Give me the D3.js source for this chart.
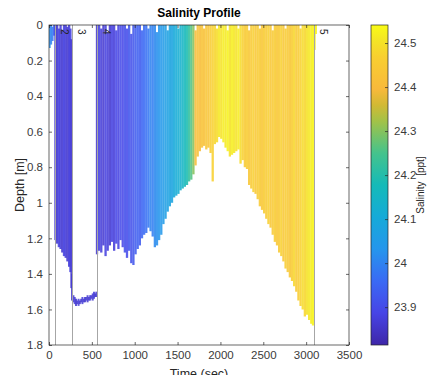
<!DOCTYPE html>
<html><head><meta charset="utf-8">
<script src="https://cdn.jsdelivr.net/npm/d3@7"></script>
<style>body{margin:0;background:#fff}svg{display:block;font-family:"Liberation Sans",Arial,sans-serif}</style>
</head><body><svg id="c" width="437" height="375"></svg>
<script>
// ---------- data ----------
const xTicks = [0,500,1000,1500,2000,2500,3000,3500];
const yTicks = [0,0.2,0.4,0.6,0.8,1,1.2,1.4,1.6,1.8];
const cbTicks = [23.9,24,24.1,24.2,24.3,24.4,24.5];
const salRange = [23.814, 24.541];
const markerTimes = [70, 265, 555, 3090];
const markerLabels = ["2","3","4","5"];

// surface casts before first marker
const preTime = [8, 25, 42, 58];
const preTop = [0.0, 0.0, 0.01, 0.0];
const preBottom = [0.13, 0.11, 0.09, 0.06];
const preSal = [24.02, 24.0, 23.98, 23.95];

// casts between marker 2 and 3
const segATime = [75, 95, 115, 135, 155, 175, 195, 215, 235, 250, 262];
const segATop = [0.0, 0.0, 0.02, 0.0, 0.03, 0.0, 0.0, 0.01, 0.0, 0.02, 0.08];
const segABottom = [1.21, 1.23, 1.25, 1.26, 1.28, 1.30, 1.31, 1.33, 1.36, 1.39, 1.48];
const segASal = [23.87, 23.86, 23.88, 23.87, 23.86, 23.88, 23.87, 23.86, 23.87, 23.88, 23.86];

// near-bottom samples between marker 3 and 4
const bedTime = [268, 285, 300, 315, 330, 345, 360, 375, 390, 405, 420, 435, 450, 465, 480, 495, 510, 525, 540, 552];
const bedTop = [1.40, 1.52, 1.53, 1.54, 1.55, 1.54, 1.55, 1.54, 1.53, 1.54, 1.53, 1.53, 1.52, 1.53, 1.52, 1.52, 1.51, 1.50, 1.51, 1.50];
const bedBottom = [1.55, 1.56, 1.57, 1.58, 1.57, 1.58, 1.57, 1.56, 1.57, 1.56, 1.56, 1.55, 1.56, 1.55, 1.55, 1.54, 1.55, 1.54, 1.53, 1.53];
const bedSal = [23.86, 23.86, 23.87, 23.86, 23.86, 23.87, 23.86, 23.86, 23.87, 23.86, 23.86, 23.87, 23.86, 23.86, 23.87, 23.86, 23.86, 23.87, 23.86, 23.86];

// main casts after marker 4
const castTime = [560,585,610,635,660,685,710,735,760,785,810,835,860,885,910,935,960,985,1010,1035,1060,1085,1110,1135,1160,1185,1210,1235,1260,1285,1310,1335,1360,1385,1410,1435,1460,1485,1510,1535,1560,1585,1610,1635,1660,1685,1710,1735,1760,1785,1810,1835,1860,1885,1910,1935,1960,1985,2010,2035,2060,2085,2110,2135,2160,2185,2210,2235,2260,2285,2310,2335,2360,2385,2410,2435,2460,2485,2510,2535,2560,2585,2610,2635,2660,2685,2710,2735,2760,2785,2810,2835,2860,2885,2910,2935,2960,2985,3010,3035,3060,3080];
const castTop = [0.0,0.0,0.02,0.0,0.0,0.04,0.0,0.0,0.0,0.03,0.0,0.0,0.0,0.0,0.02,0.0,0.05,0.0,0.0,0.0,0.0,0.03,0.0,0.0,0.02,0.0,0.0,0.0,0.04,0.0,0.0,0.0,0.0,0.03,0.0,0.0,0.0,0.0,0.02,0.0,0.0,0.0,0.0,0.0,0.0,0.0,0.03,0.0,0.0,0.0,0.02,0.0,0.0,0.0,0.0,0.0,0.02,0.0,0.0,0.0,0.0,0.03,0.0,0.0,0.0,0.0,0.02,0.0,0.0,0.0,0.0,0.03,0.0,0.0,0.0,0.0,0.02,0.0,0.0,0.0,0.0,0.0,0.03,0.0,0.0,0.0,0.0,0.0,0.02,0.0,0.0,0.0,0.0,0.0,0.0,0.02,0.0,0.0,0.0,0.0,0.0,0.0];
const castBottom = [1.29,1.27,1.28,1.24,1.30,1.27,1.24,1.22,1.27,1.23,1.26,1.21,1.25,1.28,1.31,1.27,1.34,1.35,1.29,1.26,1.24,1.20,1.18,1.17,1.14,1.16,1.19,1.25,1.24,1.21,1.18,1.12,1.09,1.05,1.02,1.00,0.97,0.96,0.95,0.93,0.92,0.91,0.90,0.88,0.87,0.84,0.79,0.74,0.71,0.69,0.68,0.70,0.69,0.72,0.88,0.67,0.66,0.63,0.64,0.66,0.69,0.71,0.74,0.73,0.72,0.71,0.70,0.78,0.76,0.80,0.81,0.90,0.92,0.94,0.95,0.98,1.02,1.04,1.06,1.09,1.12,1.14,1.18,1.22,1.24,1.28,1.30,1.33,1.37,1.39,1.42,1.44,1.47,1.50,1.55,1.58,1.60,1.64,1.63,1.66,1.68,1.69];
const castSal = [23.86,23.88,23.87,23.86,23.88,23.87,23.86,23.88,23.87,23.89,23.88,23.90,23.89,23.91,23.90,23.92,23.91,23.92,23.93,23.94,23.93,23.95,23.96,23.97,23.98,24.00,23.99,24.01,24.02,24.03,24.04,24.05,24.06,24.07,24.08,24.08,24.10,24.11,24.12,24.13,24.15,24.17,24.19,24.22,24.26,24.30,24.41,24.42,24.41,24.43,24.42,24.44,24.43,24.46,24.47,24.48,24.49,24.51,24.50,24.52,24.51,24.53,24.50,24.52,24.51,24.50,24.52,24.49,24.47,24.45,24.46,24.44,24.45,24.47,24.44,24.46,24.45,24.44,24.46,24.45,24.47,24.44,24.45,24.46,24.44,24.45,24.47,24.44,24.46,24.45,24.44,24.46,24.48,24.45,24.46,24.47,24.49,24.48,24.50,24.51,24.52,24.53];

// small surface blob after marker 5
const postTime = [3100, 3115];
const postTop = [0.0, 0.0];
const postBottom = [0.14, 0.05];
const postSal = [24.52, 24.53];

// ---------- parula-like colormap ----------
const parulaPos = [0, 0.1, 0.2, 0.3, 0.4, 0.5, 0.6, 0.7, 0.75, 0.8, 0.9, 0.95, 1];
const parulaCol = ["#3e26a8","#4744e6","#3a6af4","#2596ec","#15aad8","#15bab8","#45c38c","#a3c247","#d2b934","#f8b93b","#f8cf30","#f4e426","#f9fb15"];
const parula = d3.scaleLinear().domain(parulaPos).range(parulaCol).interpolate(d3.interpolateRgb);

// ---------- layout ----------
const svg = d3.select("#c");
const L = 49, R = 349, T = 25, B = 345;
const x = d3.scaleLinear().domain([0,3500]).range([L,R]);
const y = d3.scaleLinear().domain([0,1.8]).range([T,B]);
const c = d3.scaleLinear().domain(salRange).range([0,1]).clamp(true);
const col = v => parula(c(v));

svg.append("defs").append("clipPath").attr("id","clip")
  .append("rect").attr("x",L).attr("y",T).attr("width",R-L).attr("height",B-T);

const plot = svg.append("g").attr("clip-path","url(#clip)");

function drawCasts(times, tops, bottoms, sals, w, op){
  plot.append("g").selectAll("line").data(times).join("line")
    .attr("x1",(d)=>x(d)).attr("x2",(d)=>x(d))
    .attr("y1",(d,i)=>y(tops[i])).attr("y2",(d,i)=>y(bottoms[i]))
    .attr("stroke",(d,i)=>col(sals[i]))
    .attr("stroke-width",w).attr("stroke-opacity",op);
}
drawCasts(preTime, preTop, preBottom, preSal, 2.0, 0.85);
drawCasts(segATime, segATop, segABottom, segASal, 2.3, 0.88);
drawCasts(bedTime, bedTop, bedBottom, bedSal, 2.0, 0.85);
drawCasts(castTime, castTop, castBottom, castSal, 2.3, 0.88);
drawCasts(postTime, postTop, postBottom, postSal, 2.0, 0.85);

// marker lines
plot.append("g").selectAll("line").data(markerTimes).join("line")
  .attr("x1",d=>Math.round(x(d))+0.5).attr("x2",d=>Math.round(x(d))+0.5)
  .attr("y1",T).attr("y2",B).attr("stroke","#a6a6a6").attr("stroke-width",1);
svg.append("g").selectAll("text").data(markerTimes).join("text")
  .attr("transform",d=>`translate(${x(d)+6},29) rotate(90)`)
  .attr("font-size",10).attr("fill","#262626")
  .text((d,i)=>markerLabels[i]);

// axes
const axCol = "#262626";
const tl = 3;
svg.append("g").attr("transform",`translate(0,${B})`)
  .call(d3.axisBottom(x).tickValues(xTicks).tickFormat(d3.format("d")).tickSizeInner(-tl).tickSizeOuter(0).tickPadding(6));
svg.append("g").attr("transform",`translate(${L},0)`)
  .call(d3.axisLeft(y).tickValues(yTicks).tickFormat(d=>String(+d.toFixed(1))).tickSizeInner(-tl).tickSizeOuter(0).tickPadding(6));
svg.append("g").attr("transform",`translate(0,${T})`)
  .call(d3.axisTop(x).tickValues(xTicks).tickFormat("").tickSizeInner(-tl).tickSizeOuter(0));
svg.append("g").attr("transform",`translate(${R},0)`)
  .call(d3.axisRight(y).tickValues(yTicks).tickFormat("").tickSizeInner(-tl).tickSizeOuter(0));
svg.selectAll(".domain").remove();
svg.selectAll(".tick line").attr("stroke",axCol).attr("stroke-width",0.7);
svg.selectAll(".tick text").attr("fill","#3a3a3a").attr("font-size",11.5);
svg.append("rect").attr("x",L).attr("y",T).attr("width",R-L).attr("height",B-T)
  .attr("fill","none").attr("stroke",axCol).attr("stroke-width",0.7);

// titles
svg.append("text").attr("x",(L+R)/2).attr("y",17).attr("text-anchor","middle")
  .attr("font-weight","bold").attr("font-size",12).attr("fill","#000").text("Salinity Profile");
svg.append("text").attr("x",(L+R)/2).attr("y",378).attr("text-anchor","middle")
  .attr("font-size",12.5).attr("fill","#262626").text("Time (sec)");
svg.append("text").attr("transform",`translate(24,${(T+B)/2}) rotate(-90)`).attr("text-anchor","middle")
  .attr("font-size",12.5).attr("fill","#262626").text("Depth [m]");

// colorbar
const CL = 371, CR = 388;
const cy = d3.scaleLinear().domain(salRange).range([B,T]);
const grad = svg.select("defs").append("linearGradient").attr("id","cb")
  .attr("x1",0).attr("y1",1).attr("x2",0).attr("y2",0);
parulaPos.forEach((o,i)=>grad.append("stop").attr("offset",o).attr("stop-color",parulaCol[i]));
svg.append("rect").attr("x",CL).attr("y",T).attr("width",CR-CL).attr("height",B-T).attr("fill","url(#cb)");
const gc = svg.append("g").attr("transform",`translate(${CR},0)`)
  .call(d3.axisRight(cy).tickValues(cbTicks).tickFormat(d=>String(+d.toFixed(1))).tickSizeInner(-3).tickSizeOuter(0).tickPadding(6));
gc.select(".domain").remove();
gc.selectAll(".tick line").attr("stroke",axCol).attr("stroke-width",0.7);
gc.selectAll(".tick text").attr("fill","#3a3a3a").attr("font-size",11.5);
svg.append("rect").attr("x",CL).attr("y",T).attr("width",CR-CL).attr("height",B-T)
  .attr("fill","none").attr("stroke",axCol).attr("stroke-width",0.7);
svg.append("text").attr("transform",`translate(424,${(T+B)/2}) rotate(-90)`).attr("text-anchor","middle")
  .attr("font-size",10).attr("fill","#262626").style("white-space","pre").text("Salinity  [ppt]");
</script></body></html>
